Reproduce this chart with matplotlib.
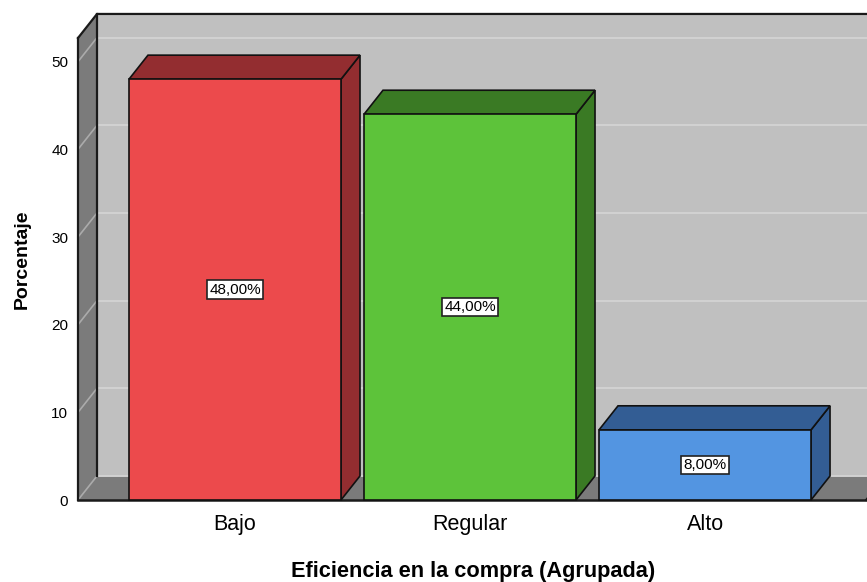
import matplotlib
matplotlib.use("Agg")
import matplotlib.pyplot as plt
from matplotlib.patches import Polygon

plt.rcParams['font.family'] = ['Liberation Sans', 'DejaVu Sans']

# Data
categories = ["Bajo", "Regular", "Alto"]
percentages = [48.0, 44.0, 8.0]
value_labels = ["48,00%", "44,00%", "8,00%"]
y_ticks = [0, 10, 20, 30, 40, 50]

front_colors = ["#EC4A4C", "#5DC33A", "#5395E1"]
shade_colors = ["#932D30", "#3A7A24", "#335D94"]

fig = plt.figure(figsize=(8.67, 5.82), dpi=100)
ax = fig.add_axes([78 / 867, 82 / 582, 788 / 867, 462 / 582])

x0, x1 = -0.668, 2.685
ytop = 52.7
ax.set_xlim(x0, x1)
ax.set_ylim(0, ytop)

# depth of the 3D box in data units
DX = 19 / 235
DY = 24 / 8.75
far = x1 + 2

wall_back = "#C0C0C0"
wall_dark = "#7B7B7B"

# back wall
ax.add_patch(Polygon([(x0 + DX, DY), (far, DY), (far, ytop + DY), (x0 + DX, ytop + DY)],
                     closed=True, facecolor=wall_back, edgecolor="none", clip_on=False, zorder=1))
# left wall
ax.add_patch(Polygon([(x0, 0), (x0 + DX, DY), (x0 + DX, ytop + DY), (x0, ytop)],
                     closed=True, facecolor=wall_dark, edgecolor="none", clip_on=False, zorder=1))
# floor
ax.add_patch(Polygon([(x0, 0), (far, 0), (far + DX, DY), (x0 + DX, DY)],
                     closed=True, facecolor=wall_dark, edgecolor="none", clip_on=False, zorder=1))

# gridlines
for v in y_ticks:
    ax.plot([x0 + DX, far], [v + DY, v + DY], color="#D2D2D2", lw=1.4, clip_on=False, zorder=2)
    ax.plot([x0, x0 + DX], [v, v + DY], color="#ABABAB", lw=1.2, clip_on=False, zorder=2)

# box edges
ax.plot([x0, x0], [0, ytop], color="#1a1a1a", lw=1.6, clip_on=False, zorder=3)
ax.plot([x0 + DX, x0 + DX], [DY, ytop + DY], color="#1a1a1a", lw=1.6, clip_on=False, zorder=3)
ax.plot([x0, x0 + DX, far], [ytop, ytop + DY, ytop + DY], color="#1a1a1a", lw=1.6, clip_on=False, zorder=3)
ax.plot([x0, far], [0, 0], color="#1a1a1a", lw=1.8, clip_on=False, zorder=3)
ax.plot([x1, x1 + DX], [0, DY], color="#1a1a1a", lw=1.4, clip_on=False, zorder=3)

# bars
half = 106 / 235
for i, (h, fc, sc, lab) in enumerate(zip(percentages, front_colors, shade_colors, value_labels)):
    xl, xr = i - half, i + half
    ax.add_patch(Polygon([(xr, 0), (xr + DX, DY), (xr + DX, h + DY), (xr, h)], closed=True,
                         facecolor=sc, edgecolor="#111111", lw=1.2, clip_on=False, zorder=4))
    ax.add_patch(Polygon([(xl, h), (xr, h), (xr + DX, h + DY), (xl + DX, h + DY)], closed=True,
                         facecolor=sc, edgecolor="#111111", lw=1.2, clip_on=False, zorder=4))
    ax.add_patch(Polygon([(xl, 0), (xr, 0), (xr, h), (xl, h)], closed=True,
                         facecolor=fc, edgecolor="#111111", lw=1.2, clip_on=False, zorder=5))
    ax.text(i, h / 2, lab, ha="center", va="center", fontsize=11, zorder=6,
            bbox=dict(boxstyle="square,pad=0.15", facecolor="white", edgecolor="#222222", lw=1.2))

for s in ax.spines.values():
    s.set_visible(False)
ax.set_facecolor("none")
ax.set_yticks(y_ticks)
ax.set_yticklabels([str(t) for t in y_ticks], fontsize=11)
ax.set_xticks(range(len(categories)))
ax.set_xticklabels(categories, fontsize=15.5)
ax.tick_params(axis="y", length=0, pad=7)
ax.tick_params(axis="x", length=0, pad=10)

fig.text(473 / 867, 1 - 571 / 582, "Eficiencia en la compra (Agrupada)", ha="center", va="center",
         fontsize=15.7, fontweight="bold")
fig.text(22 / 867, 1 - 259 / 582, "Porcentaje", ha="center", va="center", rotation=90,
         fontsize=14, fontweight="bold")

fig.savefig("out.png", dpi=100)
